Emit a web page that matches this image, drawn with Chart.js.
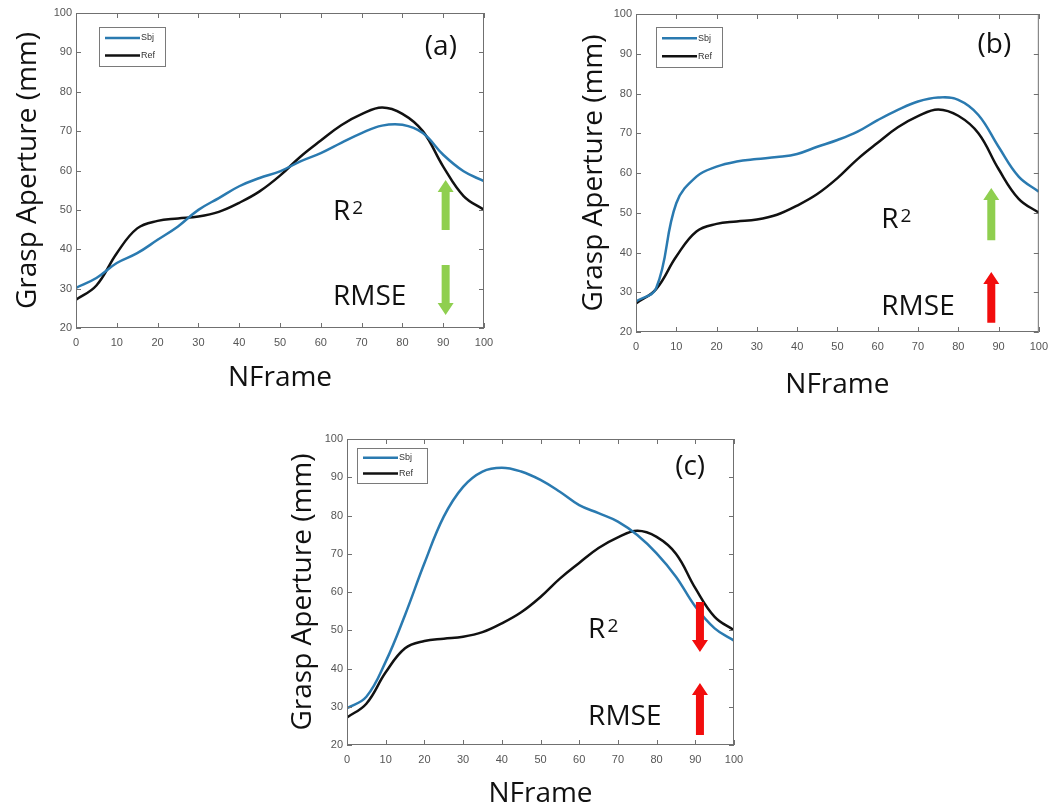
<!DOCTYPE html>
<html>
<head>
<meta charset="utf-8">
<title>Grasp aperture</title>
<script src="https://cdn.jsdelivr.net/npm/chart.js@4.4.1/dist/chart.umd.min.js"></script>
<style>
  body { margin: 0; background: #fff; }
  #page { position: relative; width: 1056px; height: 809px; overflow: hidden; }
  .panel { position: absolute; }
</style>
</head>
<body>
<div id="page">
  <div class="panel" style="left:0;top:0"><canvas id="chartA" width="520" height="420"></canvas></div>
  <div class="panel" style="left:540px;top:0"><canvas id="chartB" width="516" height="420"></canvas></div>
  <div class="panel" style="left:250px;top:420px"><canvas id="chartC" width="540" height="389"></canvas></div>
</div>
<script>
// frame index, every 5 frames
const frames = [0, 5, 10, 15, 20, 25, 30, 35, 40, 45, 50, 55, 60, 65, 70, 75, 80, 85, 90, 95, 100];

// reference grasp aperture (mm), shared by all three subjects
const refAperture = [27.2, 30.8, 39, 45.3, 47.2, 47.8, 48.3, 49.5, 51.8, 54.7, 58.7, 63.5, 67.6, 71.5, 74.3, 76, 74.4, 70, 61, 53.5, 50];

// subject grasp aperture (mm)
const sbjApertureA = [30.2, 32.7, 36.5, 39, 42.4, 45.8, 50, 53, 56, 58.1, 59.8, 62.3, 64.4, 67, 69.5, 71.4, 71.6, 69.5, 64, 59.8, 57.3];
const sbjApertureB = [27.7, 31, 52.4, 59.1, 61.6, 62.9, 63.5, 64, 64.8, 66.6, 68.3, 70.4, 73.3, 75.9, 78, 79, 78.4, 74.6, 66.6, 59.1, 55.3];
const sbjApertureC = [29.6, 32.6, 41.8, 54, 67.5, 79.7, 87.5, 91.5, 92.5, 91.5, 89.3, 86.2, 82.7, 80.6, 78.4, 74.9, 70.1, 64, 56.2, 50.5, 47.3];

const BLUE = '#2a7ab0';
const BLACK = '#111111';
const GREEN = '#8fcf4f';
const RED = '#f20d0d';
const TITLE_FONT = 'Open Sans';
const TICK_FONT = 'Liberation Sans';

function drawArrow(ctx, px, y0, y1, color) {
  const dir = Math.sign(y1 - y0);
  const neck = y1 - dir * 12;
  ctx.fillStyle = color;
  ctx.beginPath();
  ctx.moveTo(px - 4, y0);
  ctx.lineTo(px - 4, neck);
  ctx.lineTo(px - 8, neck);
  ctx.lineTo(px, y1);
  ctx.lineTo(px + 8, neck);
  ctx.lineTo(px + 4, neck);
  ctx.lineTo(px + 4, y0);
  ctx.closePath();
  ctx.fill();
}

// box with inward ticks on all sides, legend box, panel letter and R²/RMSE notes
const matlabFrame = {
  id: 'matlabFrame',
  afterDatasetsDraw(chart, args, opts) {
    const { ctx, chartArea: a, scales: { x, y } } = chart;
    ctx.save();

    ctx.strokeStyle = '#707070';
    ctx.lineWidth = 1;
    ctx.strokeRect(a.left + 0.5, a.top + 0.5, a.width - 1, a.height - 1);
    ctx.beginPath();
    x.ticks.forEach(t => {
      const px = Math.round(x.getPixelForValue(t.value)) + 0.5;
      ctx.moveTo(px, a.bottom); ctx.lineTo(px, a.bottom - 5);
      ctx.moveTo(px, a.top); ctx.lineTo(px, a.top + 5);
    });
    y.ticks.forEach(t => {
      const py = Math.round(y.getPixelForValue(t.value)) + 0.5;
      ctx.moveTo(a.left, py); ctx.lineTo(a.left + 5, py);
      ctx.moveTo(a.right, py); ctx.lineTo(a.right - 5, py);
    });
    ctx.stroke();

    // legend
    const L = opts.legend;
    const lx = Math.round(a.left + L.dx), ly = Math.round(a.top + L.dy);
    ctx.fillStyle = '#fff';
    ctx.fillRect(lx, ly, L.w, L.h);
    ctx.strokeStyle = '#7a7a7a';
    ctx.strokeRect(lx + 0.5, ly + 0.5, L.w, L.h);
    chart.data.datasets.forEach((ds, i) => {
      const rowY = ly + L.h * (i === 0 ? 0.28 : 0.73);
      ctx.strokeStyle = ds.borderColor;
      ctx.lineWidth = 2.5;
      ctx.beginPath();
      ctx.moveTo(lx + 6, rowY);
      ctx.lineTo(lx + 41, rowY);
      ctx.stroke();
      ctx.fillStyle = '#333';
      ctx.font = '9px "' + TICK_FONT + '"';
      ctx.textBaseline = 'middle';
      ctx.textAlign = 'left';
      ctx.fillText(ds.label, lx + 42, rowY);
    });

    ctx.fillStyle = '#111';
    ctx.textBaseline = 'alphabetic';
    ctx.font = '28px "' + TITLE_FONT + '"';
    ctx.fillText(opts.tag.text, x.getPixelForValue(opts.tag.x), y.getPixelForValue(opts.tag.y));

    opts.notes.forEach(n => {
      const px = x.getPixelForValue(n.x), py = y.getPixelForValue(n.y);
      ctx.fillStyle = '#111';
      ctx.font = '28px "' + TITLE_FONT + '"';
      ctx.fillText(n.text, px, py);
      if (n.sup) {
        const w = ctx.measureText(n.text).width;
        ctx.font = '19px "' + TITLE_FONT + '"';
        ctx.fillText(n.sup, px + w + 2, py - 6);
      }
    });

    opts.arrows.forEach(ar => {
      drawArrow(ctx, x.getPixelForValue(ar.x), y.getPixelForValue(ar.from), y.getPixelForValue(ar.to), ar.color);
    });

    ctx.restore();
  }
};

function makePanel(id, sbjValues, box, frame) {
  const canvas = document.getElementById(id);
  const tickFont = { family: TICK_FONT, size: 11 };
  return new Chart(canvas, {
    type: 'line',
    data: {
      datasets: [{
        label: 'Sbj',
        data: frames.map((f, i) => ({ x: f, y: sbjValues[i] })),
        borderColor: BLUE,
        borderWidth: 2.5,
        pointRadius: 0,
        tension: 0.4
      }, {
        label: 'Ref',
        data: frames.map((f, i) => ({ x: f, y: refAperture[i] })),
        borderColor: BLACK,
        borderWidth: 2.5,
        pointRadius: 0,
        tension: 0.4
      }]
    },
    plugins: [matlabFrame],
    options: {
      responsive: false,
      animation: false,
      layout: {
        padding: { left: 0, top: box.top, right: canvas.width - box.right, bottom: 0 }
      },
      plugins: {
        legend: { display: false },
        tooltip: { enabled: false },
        matlabFrame: frame
      },
      scales: {
        x: {
          type: 'linear',
          min: 0,
          max: 100,
          afterFit: s => { s.height = canvas.height - box.bottom; },
          grid: { display: false, drawTicks: false },
          border: { display: false },
          ticks: { stepSize: 10, color: '#555', font: tickFont, padding: 8, maxRotation: 0 },
          title: {
            display: true,
            text: 'NFrame',
            color: '#111',
            font: { family: TITLE_FONT, size: 28, lineHeight: 1 },
            padding: { top: 0, bottom: box.xTitlePad }
          }
        },
        y: {
          min: 20,
          max: 100,
          afterFit: s => { s.width = box.left; },
          grid: { display: false, drawTicks: false },
          border: { display: false },
          ticks: { stepSize: 10, color: '#555', font: tickFont, padding: 4 },
          title: {
            display: true,
            text: 'Grasp Aperture (mm)',
            color: '#111',
            font: { family: TITLE_FONT, size: 28, lineHeight: 1 },
            padding: { top: box.yTitlePad, bottom: 0 }
          }
        }
      }
    }
  });
}

makePanel('chartA', sbjApertureA,
  { left: 76, top: 13, right: 484, bottom: 328, xTitlePad: 28, yTitlePad: 14 },
  {
    legend: { dx: 23, dy: 14, w: 66, h: 39 },
    tag: { text: '(a)', x: 85.5, y: 89.3 },
    notes: [{ text: 'R', sup: '2', x: 63, y: 47.4 }, { text: 'RMSE', x: 63, y: 25.8 }],
    arrows: [{ x: 90.6, from: 44.9, to: 57.6, color: GREEN }, { x: 90.6, from: 36, to: 23.3, color: GREEN }]
  });

makePanel('chartB', sbjApertureB,
  { left: 96, top: 14, right: 505, bottom: 332, xTitlePad: 21, yTitlePad: 40 },
  {
    legend: { dx: 20, dy: 13, w: 66, h: 40 },
    tag: { text: '(b)', x: 84.8, y: 90.2 },
    notes: [{ text: 'R', sup: '2', x: 60.9, y: 46.2 }, { text: 'RMSE', x: 60.9, y: 24.3 }],
    arrows: [{ x: 88.2, from: 43.1, to: 56.2, color: GREEN }, { x: 88.2, from: 22.3, to: 35.1, color: RED }]
  });

makePanel('chartC', sbjApertureC,
  { left: 97, top: 19, right: 484, bottom: 325, xTitlePad: 1, yTitlePad: 39 },
  {
    legend: { dx: 10, dy: 9, w: 70, h: 35 },
    tag: { text: '(c)', x: 84.8, y: 90.6 },
    notes: [{ text: 'R', sup: '2', x: 62.3, y: 48 }, { text: 'RMSE', x: 62.3, y: 25.2 }],
    arrows: [{ x: 91.2, from: 57.4, to: 44.3, color: RED }, { x: 91.2, from: 22.6, to: 36.2, color: RED }]
  });
</script>
</body>
</html>
